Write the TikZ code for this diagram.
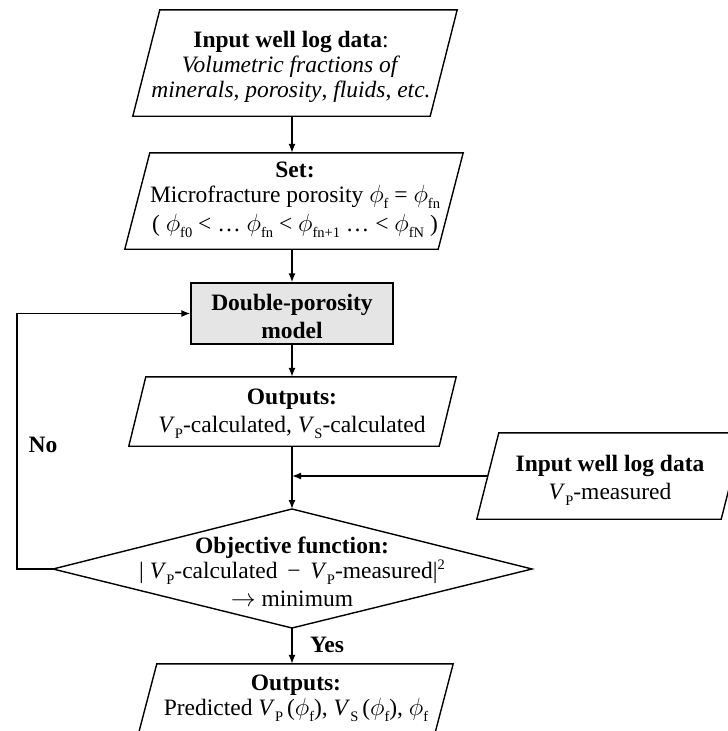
\documentclass[tikz,border=0pt]{standalone}
\usepackage{fontspec}
\setmainfont{Liberation Serif}
\usetikzlibrary{calc,arrows.meta}
\newcommand\sbs[1]{\raisebox{-0.25em}{\fontsize{14.5}{14.5}\selectfont #1}}
\newcommand\sps[1]{\raisebox{0.42em}{\fontsize{14.5}{14.5}\selectfont #1}}
\newcommand\ph{$\phi$}
\tikzset{
  txt/.style={align=center, inner sep=0pt, font=\fontsize{23.5}{25}\selectfont},
  boxnode/.style={rectangle, inner sep=0pt},
  outline/.style={draw=black, line width=1.4pt, line join=miter},
  arr/.style={draw=black, line width=1.4pt, -{Latex[length=9pt,width=7pt]}},
  lbl/.style={txt, font=\fontsize{23.5}{25}\selectfont\bfseries}
}
\newcommand\slant[2]{% node name, half skew
  \draw[outline] ($(#1.north west)+(#2pt,0pt)$) -- ($(#1.north east)+(#2pt,0pt)$)
    -- ($(#1.south east)-(#2pt,0pt)$) -- ($(#1.south west)-(#2pt,0pt)$) -- cycle;}
\begin{document}
\begin{tikzpicture}[x=1pt,y=-1pt]
\useasboundingbox (0,0) rectangle (728,731);
\clip (0,0) rectangle (728,731);
\coordinate (spine) at (292,0);

% input box 1
\node[boxnode, minimum width=297pt, minimum height=106pt] (in1) at (295,63) {};
\slant{in1}{13.5}
\node[txt] (in1t) at (291,67)
  {\textbf{Input well log data}:\\ \textit{Volumetric fractions of}\\ \textit{minerals}, \textit{porosity}, \textit{fluids}, \textit{etc.}};

% set box
\node[boxnode, minimum width=313pt, minimum height=96pt] (set) at (294,201) {};
\slant{set}{12.5}
\node[txt] (sett) at (295,200)
  {\textbf{Set:}\\ Microfracture porosity \ph\sbs{f} = \ph\sbs{fn}\\[4pt] ( \ph\sbs{f0} < … \ph\sbs{fn} < \ph\sbs{fn+1} … < \ph\sbs{fN} )};

% double porosity model
\node[boxnode, draw=black, line width=1.4pt, fill=black!10, minimum width=202pt, minimum height=61pt] (dbl) at (292,313.5) {};
\node[txt, font=\fontsize{23.5}{28}\selectfont\bfseries] (dblt) at (292,316) {Double-porosity\\ model};

% outputs 1
\node[boxnode, minimum width=310pt, minimum height=69pt] (out1) at (292.5,411.5) {};
\slant{out1}{8.5}
\node[txt, font=\fontsize{23.5}{28}\selectfont] (out1t) at (292,414)
  {\textbf{Outputs:}\\ \textit{V}\sbs{P}-calculated, \textit{V}\sbs{S}-calculated};

% input box 2
\node[boxnode, minimum width=244pt, minimum height=86pt] (in2) at (610,476) {};
\slant{in2}{11}
\node[txt, font=\fontsize{23.5}{28}\selectfont] (in2t) at (610,480)
  {\textbf{Input well log data}\\ \textit{V}\sbs{P}-measured};

% objective diamond
\coordinate (dtop) at (292,509);
\coordinate (dbot) at (292,628);
\coordinate (dleft) at (53,569);
\coordinate (dright) at (532,569);
\draw[outline] (dtop) -- (dright) -- (dbot) -- (dleft) -- cycle;
\node[txt, font=\fontsize{23.5}{22}\selectfont] (obj) at (292,572)
  {\textbf{Objective function:}\\ | \textit{V}\sbs{P}-calculated \,−\, \textit{V}\sbs{P}-measured|\sps{2}\\[6pt] $\rightarrow$ minimum};

% final outputs
\node[boxnode, minimum width=296pt, minimum height=72pt] (fin) at (295.5,700) {};
\slant{fin}{9.5}
\node[txt] (fint) at (296,698)
  {\textbf{Outputs:}\\ Predicted \textit{V}\sbs{P}\,(\ph\sbs{f}), \textit{V}\sbs{S}\,(\ph\sbs{f}), \ph\sbs{f}};

% connectors
\draw[arr] (in1.south -| spine) -- (set.north -| spine);
\draw[arr] (set.south -| spine) -- (dbl.north -| spine);
\draw[arr] (dbl.south -| spine) -- (out1.north -| spine);
\draw[arr] (out1.south -| spine) -- (dtop);
\draw[arr] (in2.west) -- (in2.west -| spine);
\draw[arr] (dbot) -- (fin.north -| spine);
\coordinate (loopc) at (17,569);
\draw[arr] (dleft) -- (loopc) |- (dbl.west);

% labels
\node[lbl] (no) at (43,445) {No};
\node[lbl] (yes) at (327,645) {Yes};
\end{tikzpicture}
\end{document}
